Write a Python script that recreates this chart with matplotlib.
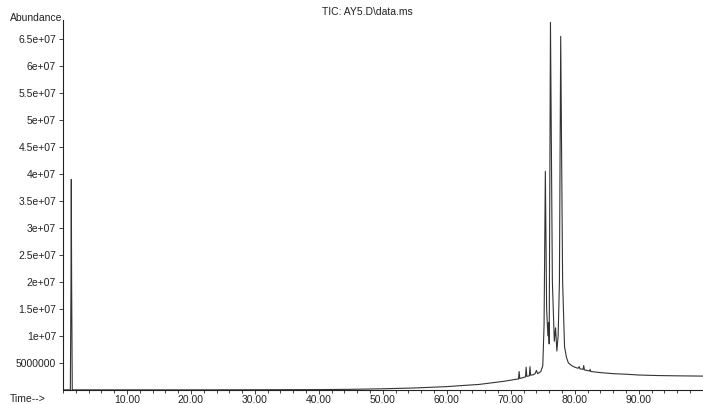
import matplotlib.pyplot as plt
from matplotlib.ticker import MultipleLocator

plt.rcParams["font.family"] = ["Liberation Sans", "DejaVu Sans"]

# trace: time (min), abundance (x 1e6)
times = [0.0, 1.15, 1.25, 1.3, 1.35, 1.45, 10.0, 20.0, 30.0, 40.0, 45.0, 50.0,
         55.0, 60.0, 63.0, 65.0, 67.0, 69.0, 70.0, 71.0, 71.2, 71.3, 71.4,
         72.0, 72.3, 72.4, 72.5, 72.9, 73.0, 73.1, 73.5, 73.8, 74.0, 74.2,
         74.7, 75.0, 75.2, 75.4, 75.6, 75.8, 75.9, 76.0, 76.2, 76.5, 76.8,
         77.0, 77.2, 77.4, 77.6, 77.8, 78.1, 78.4, 78.7, 79.0, 79.5, 80.0,
         80.5, 80.7, 80.8, 81.3, 81.4, 81.5, 82.3, 82.4, 82.5, 84.0, 86.0,
         88.0, 90.0, 93.0, 96.0, 100.0]
abundance = [0.0, 0.0, 20.0, 39.0, 20.0, 0.0, 0.0, 0.0, 0.02, 0.05, 0.1, 0.2,
             0.35, 0.6, 0.85, 1.0, 1.3, 1.6, 1.8, 2.0, 2.0, 3.4, 2.1,
             2.3, 2.4, 4.2, 2.5, 2.6, 4.3, 2.7, 2.8, 3.0, 3.6, 3.0,
             3.4, 4.5, 12.0, 40.5, 15.0, 10.0, 12.5, 8.5, 68.1, 20.0, 9.0,
             11.5, 7.2, 10.0, 20.0, 65.5, 20.0, 8.0, 6.0, 5.0, 4.5, 4.2,
             4.0, 4.3, 3.9, 3.8, 4.5, 3.7, 3.5, 3.8, 3.4, 3.2, 3.0,
             2.9, 2.75, 2.65, 2.6, 2.55]

y_ticks = [5e6, 1e7, 1.5e7, 2e7, 2.5e7, 3e7, 3.5e7, 4e7, 4.5e7, 5e7, 5.5e7, 6e7, 6.5e7]
y_labels = ["5000000", "1e+07", "1.5e+07", "2e+07", "2.5e+07", "3e+07", "3.5e+07",
            "4e+07", "4.5e+07", "5e+07", "5.5e+07", "6e+07", "6.5e+07"]
x_ticks = [10, 20, 30, 40, 50, 60, 70, 80, 90]
x_labels = ["10.00", "20.00", "30.00", "40.00", "50.00", "60.00", "70.00", "80.00", "90.00"]

fig = plt.figure(figsize=(7.03, 4.04), dpi=100)
ax = fig.add_axes([0.0896, 0.035, 0.91, 0.915])

ax.plot(times, [a * 1e6 for a in abundance], color="#333333", lw=0.8)

ax.set_xlim(0, 100)
ax.set_ylim(0, 6.85e7)
ax.set_xticks(x_ticks)
ax.set_xticklabels(x_labels)
ax.xaxis.set_minor_locator(MultipleLocator(2))
ax.set_yticks(y_ticks)
ax.set_yticklabels(y_labels)

ax.tick_params(axis="both", labelsize=7.5, colors="#222222", length=3, width=0.6, pad=2)
ax.tick_params(axis="x", which="minor", length=2.5, width=0.6, colors="#222222")
ax.tick_params(axis="x", pad=1)

for side in ["top", "right"]:
    ax.spines[side].set_visible(False)
for side in ["left", "bottom"]:
    ax.spines[side].set_linewidth(0.8)
    ax.spines[side].set_color("#222222")

fig.text(0.014, 0.955, "Abundance", fontsize=7.5, color="#222222", va="center")
fig.text(0.522, 0.97, "TIC: AY5.D\\data.ms", fontsize=7.5, color="#222222",
         ha="center", va="center")
fig.text(0.014, 0.013, "Time-->", fontsize=7.5, color="#222222", va="center")

fig.savefig("out.png", dpi=100)
